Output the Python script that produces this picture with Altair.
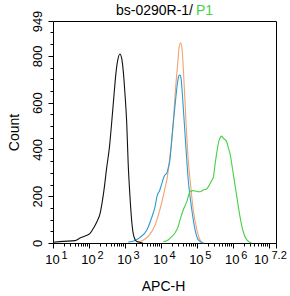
import altair as alt
import pandas as pd
import math

# ---- data (x is log10 of APC-H, y is count) ----
black_x = [1.01, 1.29, 1.61, 1.75, 1.89, 2.03, 2.14, 2.23, 2.31, 2.37, 2.43, 2.49, 2.57, 2.63, 2.70,
           2.75, 2.80, 2.86, 2.91, 2.95, 3.00, 3.05, 3.09, 3.14, 3.19, 3.25, 3.33, 3.50]
black_y = [3, 7, 10, 21, 30, 41, 67, 94, 127, 177, 241, 319, 411, 512, 640,
           726, 782, 808, 789, 740, 640, 512, 341, 199, 91, 27, 6, 0]

orange_x = [3.33, 3.42, 3.56, 3.70, 3.84, 3.93, 4.02, 4.11, 4.18, 4.25, 4.33, 4.39, 4.46, 4.51,
            4.55, 4.59, 4.64, 4.70, 4.76, 4.83, 4.90, 5.00, 5.09, 5.18]
orange_y = [4, 6, 17, 38, 77, 120, 171, 231, 283, 369, 483, 625, 754, 839,
            856, 825, 697, 512, 355, 241, 141, 56, 13, 0]

blue_x = [3.09, 3.28, 3.42, 3.61, 3.74, 3.84, 3.90, 3.96, 4.02, 4.07, 4.11, 4.16, 4.21, 4.25,
          4.30, 4.34, 4.39, 4.46, 4.49, 4.51, 4.54, 4.56, 4.62, 4.70, 4.76, 4.86, 4.95, 5.04, 5.18]
blue_y = [4, 11, 24, 56, 107, 158, 205, 222, 252, 277, 291, 297, 325, 355,
          440, 509, 583, 683, 710, 718, 716, 704, 583, 398, 269, 141, 56, 13, 0]

green_x = [4.07, 4.20, 4.30, 4.39, 4.48, 4.53, 4.62, 4.72, 4.81, 4.89, 5.00, 5.09, 5.18, 5.27,
           5.32, 5.39, 5.46, 5.50, 5.55, 5.59, 5.62, 5.69, 5.74, 5.78, 5.83, 5.87, 5.92, 6.01,
           6.11, 6.20, 6.29, 6.39, 6.52]
green_y = [6, 13, 27, 43, 70, 98, 141, 177, 219, 224, 220, 219, 227, 231,
           241, 261, 283, 329, 383, 419, 440, 457, 447, 442, 433, 410, 383, 298,
           198, 112, 48, 13, 0]

x_major = [1, 2, 3, 4, 5, 6, 7, 7.2]
x_unlabeled = 7
x_minor = [math.log10(k * 10 ** n) for n in range(1, 7) for k in range(2, 10)]
y_major = [0, 200, 400, 600, 800, 949]
y_minor = [v for v in range(50, 949, 50) if v % 200 != 0]

title_main = "bs-0290R-1/"
title_p1 = "P1"

C_BLACK = "#111111"
C_ORANGE = "#f2a370"
C_BLUE = "#2c9bd0"
C_GREEN = "#47cf47"
FONT = "Liberation Sans"


def frame(xs, ys):
    return pd.DataFrame({"logx": xs, "count": ys})


xscale = alt.Scale(domain=[1, 7.2], nice=False, zero=False)
yscale = alt.Scale(domain=[0, 949], nice=False, zero=True)

is_last = "datum.value == 7.2"
skip = f"datum.value == {x_unlabeled}"

main_x_axis = alt.Axis(
    orient="bottom", values=x_major, labelExpr=f"{skip} ? '' : '10'", domain=False, grid=False,
    tickSize=5, tickColor="black", labelFontSize=13, labelFont=FONT, labelColor="black",
    labelBaseline="alphabetic", labelPadding=15,
    labelAlign={"condition": {"test": is_last, "value": "right"}, "value": "center"},
    labelOffset={"condition": {"test": is_last, "value": -8}, "value": -1},
    title="APC-H", titleFont=FONT, titleFontSize=14, titleFontWeight="normal",
    titleColor="black", titleBaseline="alphabetic", titleY=47, titleX=110,
    labelFlush=False, labelOverlap=False,
)
exp_x_axis = alt.Axis(
    orient="bottom", values=x_major, labelExpr=f"{skip} ? '' : '' + datum.value",
    domain=False, grid=False,
    ticks=False, tickSize=0, labelFontSize=11, labelFont=FONT, labelColor="black",
    labelBaseline="alphabetic", labelPadding=15.5, labelAlign="left",
    labelOffset={"condition": {"test": is_last, "value": -5}, "value": 8},
    title=None, labelFlush=False, labelOverlap=False,
)
minor_x_axis = alt.Axis(
    orient="bottom", values=x_minor, labels=False, domain=False, grid=False,
    tickSize=3, tickColor="black", title=None,
)
main_y_axis = alt.Axis(
    orient="left", values=y_major, domain=False, grid=False, tickSize=5, tickColor="black",
    labelFontSize=13, labelFont=FONT, labelColor="black", labelAngle=270,
    labelAlign="center", labelBaseline="alphabetic", labelPadding=6.5,
    labelFlush=False, labelOverlap=False,
    title="Count", titleFont=FONT, titleFontSize=14, titleFontWeight="normal",
    titleColor="black", titleAngle=270, titleBaseline="alphabetic", titleAlign="center",
    titleX=-35, titleY=111,
)
minor_y_axis = alt.Axis(
    orient="left", values=y_minor, labels=False, domain=False, grid=False,
    tickSize=3, tickColor="black", title=None,
)


def curve(xs, ys, color, xaxis=None, yaxis=None):
    return alt.Chart(frame(xs, ys)).mark_line(
        color=color, strokeWidth=1.1, interpolate="monotone"
    ).encode(
        x=alt.X("logx:Q", scale=xscale, axis=xaxis),
        y=alt.Y("count:Q", scale=yscale, axis=yaxis),
    )


layer_black = curve(black_x, black_y, C_BLACK, main_x_axis, main_y_axis)
layer_orange = curve(orange_x, orange_y, C_ORANGE)
layer_blue = curve(blue_x, blue_y, C_BLUE)
layer_green = curve(green_x, green_y, C_GREEN)

axis_helper = alt.Chart(frame([1], [0])).mark_point(opacity=0).encode(
    x=alt.X("logx:Q", scale=xscale, axis=exp_x_axis),
    y=alt.Y("count:Q", scale=yscale, axis=minor_y_axis),
)
axis_helper2 = alt.Chart(frame([1], [0])).mark_point(opacity=0).encode(
    x=alt.X("logx:Q", scale=xscale, axis=minor_x_axis),
    y=alt.Y("count:Q", scale=yscale, axis=None),
)

t1 = alt.Chart(pd.DataFrame({"t": [title_main]})).mark_text(
    align="right", baseline="alphabetic", font=FONT, fontSize=14, color="black"
).encode(text="t:N", x=alt.value(140), y=alt.value(-6))
t2 = alt.Chart(pd.DataFrame({"t": [title_p1]})).mark_text(
    align="left", baseline="alphabetic", font=FONT, fontSize=14, color=C_GREEN
).encode(text="t:N", x=alt.value(143), y=alt.value(-6))

chart = alt.layer(
    layer_orange, layer_blue, layer_green, layer_black, axis_helper, axis_helper2, t1, t2
).resolve_axis(x="independent", y="independent").properties(
    width=223, height=222,
    padding={"left": 53, "top": 21, "right": 14, "bottom": 53},
    autosize=alt.AutoSizeParams(type="none"),
    background="white",
).configure_view(stroke="black", strokeWidth=1)

chart.save("out.html", embed_options={"renderer": "svg", "actions": False})
